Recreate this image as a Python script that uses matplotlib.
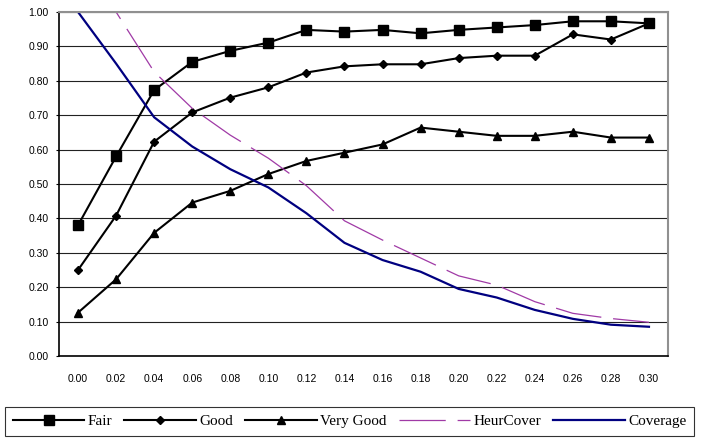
import numpy as np
import matplotlib
matplotlib.use("Agg")
import matplotlib.pyplot as plt

x_labels = ["0.00", "0.02", "0.04", "0.06", "0.08", "0.10", "0.12", "0.14",
            "0.16", "0.18", "0.20", "0.22", "0.24", "0.26", "0.28", "0.30"]

fair = [0.38, 0.58, 0.773, 0.855, 0.887, 0.911, 0.948, 0.943,
        0.948, 0.938, 0.948, 0.955, 0.962, 0.973, 0.973, 0.967]
good = [0.25, 0.408, 0.623, 0.708, 0.751, 0.781, 0.824, 0.842,
        0.848, 0.848, 0.866, 0.873, 0.873, 0.935, 0.92, 0.967]
very_good = [0.126, 0.223, 0.358, 0.446, 0.48, 0.529, 0.567, 0.591,
             0.615, 0.664, 0.652, 0.64, 0.64, 0.652, 0.635, 0.635]
heur_cover = [1.0, 1.0, 0.826, 0.72, 0.642, 0.575, 0.495, 0.393,
              0.337, 0.285, 0.233, 0.206, 0.158, 0.124, 0.109, 0.098]
coverage = [1.0, 0.85, 0.694, 0.609, 0.543, 0.49, 0.415, 0.329,
            0.279, 0.245, 0.195, 0.17, 0.134, 0.108, 0.091, 0.085]

xs = np.arange(len(x_labels))

fig = plt.figure(figsize=(7.05, 4.4), dpi=100)
ax = fig.add_axes([59/705, 1-356/440, 609/705, 344/440])

l1, = ax.plot(xs, fair, color="black", lw=1.5, marker="s", ms=7, label="Fair")
l2, = ax.plot(xs, good, color="black", lw=1.5, marker="D", ms=4, label="Good")
l3, = ax.plot(xs, very_good, color="black", lw=1.5, marker="^", ms=6, label="Very Good")
l4, = ax.plot(xs, heur_cover, color="#a03aa6", lw=0.9, label="HeurCover")
l4.set_dashes((37, 9.5))
l5, = ax.plot(xs, coverage, color="#000080", lw=1.6, label="Coverage")

ax.set_xlim(-0.5, len(xs) - 0.5)
ax.set_ylim(0, 1.0)
ax.set_yticks(np.arange(0, 1.01, 0.1))
ax.set_yticklabels(["%.2f" % v for v in np.arange(0, 1.01, 0.1)])
ax.set_xticks(xs)
ax.set_xticklabels(x_labels)
ax.yaxis.grid(True, color="#222222", lw=0.8)
ax.set_axisbelow(True)

for lab in ax.get_xticklabels() + ax.get_yticklabels():
    lab.set_family("Liberation Sans")
    lab.set_fontsize(7.5)
ax.tick_params(axis="x", length=0, pad=13)
ax.tick_params(axis="y", length=2.5, width=0.8, pad=5)

ax.spines["left"].set_color("black")
ax.spines["left"].set_linewidth(1.2)
ax.spines["bottom"].set_color("black")
ax.spines["bottom"].set_linewidth(1.2)
ax.spines["top"].set_color("#909090")
ax.spines["top"].set_linewidth(1.5)
ax.spines["right"].set_color("#909090")
ax.spines["right"].set_linewidth(1.5)

leg = fig.legend(handles=[l1, l2, l3, l4, l5], loc="upper left",
                 bbox_to_anchor=(5/705, 1-407/440), ncol=5,
                 prop={"family": "Liberation Serif", "size": 11},
                 frameon=True, fancybox=False, edgecolor="black",
                 borderaxespad=0, handlelength=4.7, handletextpad=0.2,
                 columnspacing=0.8, borderpad=0.5)
leg.get_frame().set_linewidth(0.8)

fig.savefig("out.png", dpi=100)
